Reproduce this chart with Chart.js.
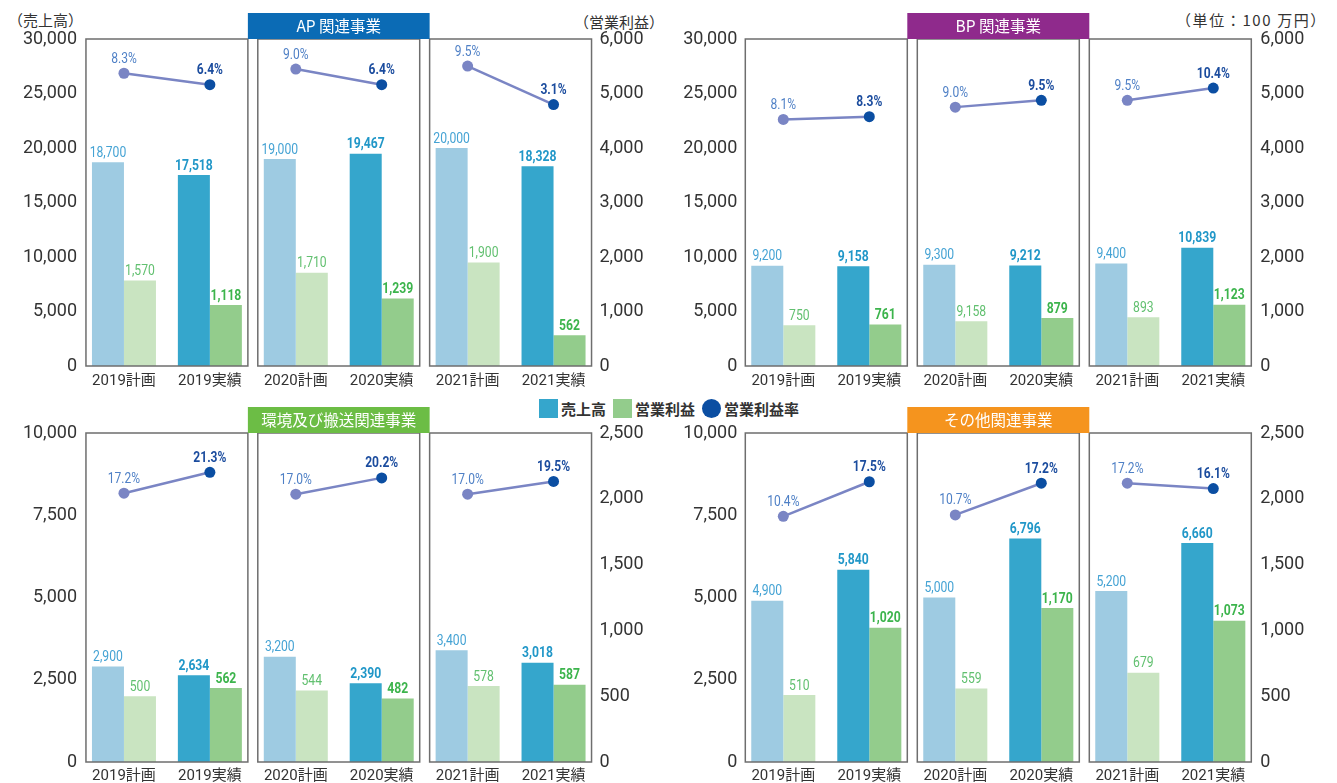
<!DOCTYPE html>
<html>
<head>
<meta charset="utf-8">
<script src="https://cdn.jsdelivr.net/npm/chart.js@4.4.1/dist/chart.umd.min.js"></script>
<style>
  body { margin:0; background:#fff; width:1337px; height:783px; position:relative; overflow:hidden; font-family:"Noto Sans CJK JP", sans-serif; }
  canvas { position:absolute; }
  .t { position:absolute; font-size:15px; line-height:16px; color:#333; white-space:nowrap; }
  #legend { position:absolute; left:539px; top:399px; display:flex; align-items:center; font-weight:bold; font-size:15px; line-height:19px; color:#333; }
  #legend i { display:inline-block; width:19px; height:19px; margin-right:3px; }
  #legend span { margin-right:7px; }
</style>
</head>
<body>
<div class="t" style="left:8px;top:12px">（売上高）</div>
<div class="t" style="left:574px;top:14px">（営業利益）</div>
<div class="t" style="left:1176px;top:12px;letter-spacing:1.6px">（単位：100 万円）</div>
<div id="legend">
  <i style="background:#35a6cc"></i><span>売上高</span>
  <i style="background:#93cc8c"></i><span>営業利益</span>
  <i style="background:#0b4ea2;border-radius:50%"></i><span>営業利益率</span>
</div>
<canvas id="ap" width="668" height="392" style="left:0;top:0"></canvas>
<canvas id="bp" width="669" height="392" style="left:668px;top:0"></canvas>
<canvas id="env" width="668" height="388" style="left:0;top:395px"></canvas>
<canvas id="other" width="669" height="388" style="left:668px;top:395px"></canvas>
<script>
// 年度ごとの計画・実績
const categories = ['2019計画', '2019実績', '2020計画', '2020実績', '2021計画', '2021実績'];

// AP 関連事業
const apSales = [18700, 17518, 19000, 19467, 20000, 18328];
const apProfit = [1570, 1118, 1710, 1239, 1900, 562];
const apRate = [8.3, 6.4, 9.0, 6.4, 9.5, 3.1];

// BP 関連事業 (2020計画の営業利益は元の図で「9,158」と表記)
const bpSales = [9200, 9158, 9300, 9212, 9400, 10839];
const bpProfit = [750, 761, 820, 879, 893, 1123];
const bpProfitText = [null, null, '9,158', null, null, null];
const bpRate = [8.1, 8.3, 9.0, 9.5, 9.5, 10.4];

// 環境及び搬送関連事業
const envSales = [2900, 2634, 3200, 2390, 3400, 3018];
const envProfit = [500, 562, 544, 482, 578, 587];
const envRate = [17.2, 21.3, 17.0, 20.2, 17.0, 19.5];

// その他関連事業
const otherSales = [4900, 5840, 5000, 6796, 5200, 6660];
const otherProfit = [510, 1020, 559, 1170, 679, 1073];
const otherRate = [10.4, 17.5, 10.7, 17.2, 17.2, 16.1];

const NUM = 'Roboto, "Noto Sans CJK JP", sans-serif';
const LINE = '#7a85c4';
const fmt = v => v.toLocaleString('en-US');
const alt = (a, b) => categories.map((c, i) => i % 2 ? b : a);

// 文字を横に詰めて描く(コンデンス体の代わり)
function narrowText(ctx, txt, x, y, font, color, sx) {
    ctx.save();
    ctx.font = font;
    ctx.fillStyle = color;
    ctx.textAlign = 'center';
    ctx.textBaseline = 'middle';
    ctx.translate(x, y);
    ctx.scale(sx, 1);
    ctx.fillText(txt, 0, 0);
    ctx.restore();
}

function decor(cfg) {
    return {
        id: 'decor',
        afterDatasetsDraw(chart) {
            const ctx = chart.ctx, x = chart.scales.x, a = chart.chartArea;
            const c = i => x.getPixelForValue(i);

            // 年度の枠
            ctx.save();
            ctx.strokeStyle = '#6e6e6e';
            ctx.lineWidth = 1.5;
            for (let g = 0; g < 3; g++) {
                const l = c(2 * g) - 38, r = c(2 * g + 1) + 38;
                ctx.strokeRect(l, a.top, r - l, a.bottom - a.top);
            }
            // 事業名
            const hl = c(1) + 38, hr = c(4) - 38;
            ctx.fillStyle = cfg.color;
            ctx.fillRect(hl, a.top - 26, hr - hl, 26);
            ctx.fillStyle = '#fff';
            ctx.font = '15.5px "Noto Sans CJK JP", sans-serif';
            ctx.textAlign = 'center';
            ctx.textBaseline = 'middle';
            ctx.fillText(cfg.title, (hl + hr) / 2, a.top - 13);
            ctx.restore();

            // 棒の数値
            const salesMeta = chart.getDatasetMeta(1), profMeta = chart.getDatasetMeta(2);
            salesMeta.data.forEach((b, i) => {
                const act = i % 2 === 1;
                narrowText(ctx, fmt(cfg.sales[i]), b.x, b.y - 9,
                    (act ? 'bold ' : '') + '14.5px ' + NUM, act ? '#2197c8' : '#45a3d4', 0.84);
            });
            profMeta.data.forEach((b, i) => {
                const act = i % 2 === 1;
                const txt = (cfg.profitText && cfg.profitText[i]) || fmt(cfg.profit[i]);
                narrowText(ctx, txt, b.x, b.y - 9,
                    (act ? 'bold ' : '') + '14.5px ' + NUM, act ? '#3cb44c' : '#62c070', 0.84);
            });
            // 利益率
            chart.getDatasetMeta(0).data.forEach((p, i) => {
                const act = i % 2 === 1;
                narrowText(ctx, cfg.rate[i].toFixed(1) + '%', p.x, p.y - 14,
                    (act ? 'bold ' : '') + '14px ' + NUM, act ? '#1b4c9e' : '#4f80c6', 0.86);
            });
        }
    };
}

function panel(id, cfg) {
    new Chart(document.getElementById(id), {
        type: 'bar',
        data: {
            labels: categories,
            datasets: [
                {
                    type: 'line', yAxisID: 'yR', data: cfg.rate, order: 0,
                    borderColor: LINE, borderWidth: 2.5, tension: 0,
                    segment: { borderColor: s => s.p0DataIndex % 2 ? 'rgba(0,0,0,0)' : LINE },
                    pointRadius: 5.5, pointBorderWidth: 0,
                    pointBackgroundColor: alt('#7a85c4', '#0b4ea2')
                },
                {
                    yAxisID: 'y', data: cfg.sales, order: 1,
                    backgroundColor: alt('#9ecbe2', '#35a6cc'),
                    barPercentage: 1, categoryPercentage: 0.745
                },
                {
                    yAxisID: 'y1', data: cfg.profit, order: 1,
                    backgroundColor: alt('#c9e4c1', '#93cc8c'),
                    barPercentage: 1, categoryPercentage: 0.745
                }
            ]
        },
        options: {
            responsive: false,
            animation: false,
            layout: { padding: { top: cfg.padTop, left: 0, right: 0, bottom: 0 } },
            plugins: { legend: { display: false }, tooltip: { enabled: false } },
            scales: {
                x: {
                    grid: { display: false, drawTicks: false }, border: { display: false },
                    ticks: { padding: cfg.xPad, color: '#333', font: { size: 15, family: NUM } },
                    afterFit: s => { s.height = cfg.xH; }
                },
                y: {
                    position: 'left', min: 0, max: cfg.sMax,
                    grid: { display: false, drawTicks: false }, border: { display: false },
                    ticks: { stepSize: cfg.sStep, padding: cfg.lPad, color: '#333', font: { size: 18, family: NUM }, callback: v => fmt(v) },
                    afterFit: s => { s.width = cfg.lW; }
                },
                y1: {
                    position: 'right', min: 0, max: cfg.pMax,
                    grid: { display: false, drawTicks: false }, border: { display: false },
                    ticks: { stepSize: cfg.pStep, padding: cfg.rPad, color: '#333', font: { size: 18, family: NUM }, callback: v => fmt(v) },
                    afterFit: s => { s.width = cfg.rW; }
                },
                yR: { display: false, min: cfg.rMin, max: cfg.rMax }
            }
        },
        plugins: [decor(cfg)]
    });
}

const topRow = { padTop: 39, xH: 26, xPad: 6, sMax: 30000, sStep: 5000, pMax: 6000, pStep: 1000 };
const botRow = { padTop: 38, xH: 21, xPad: 5, sMax: 10000, sStep: 2500, pMax: 2500, pStep: 500 };
const leftCol = { lW: 81, rW: 71.5, lPad: 4, rPad: 3 };
const rightCol = { lW: 72.3, rW: 80.7, lPad: 3, rPad: 4 };

panel('ap', Object.assign({}, topRow, leftCol, {
    title: 'AP 関連事業', color: '#0b6bb5', sales: apSales, profit: apProfit, rate: apRate, rMin: -40.4, rMax: 14
}));
panel('bp', Object.assign({}, topRow, rightCol, {
    title: 'BP 関連事業', color: '#8f2a8c', sales: bpSales, profit: bpProfit, profitText: bpProfitText, rate: bpRate, rMin: -10, rMax: 14
}));
panel('env', Object.assign({}, botRow, leftCol, {
    title: '環境及び搬送関連事業', color: '#6cbd45', sales: envSales, profit: envProfit, rate: envRate, rMin: -35.5, rMax: 29
}));
panel('other', Object.assign({}, botRow, rightCol, {
    title: 'その他関連事業', color: '#f5941e', sales: otherSales, profit: otherProfit, rate: otherRate, rMin: -40, rMax: 27.5
}));
</script>
</body>
</html>
